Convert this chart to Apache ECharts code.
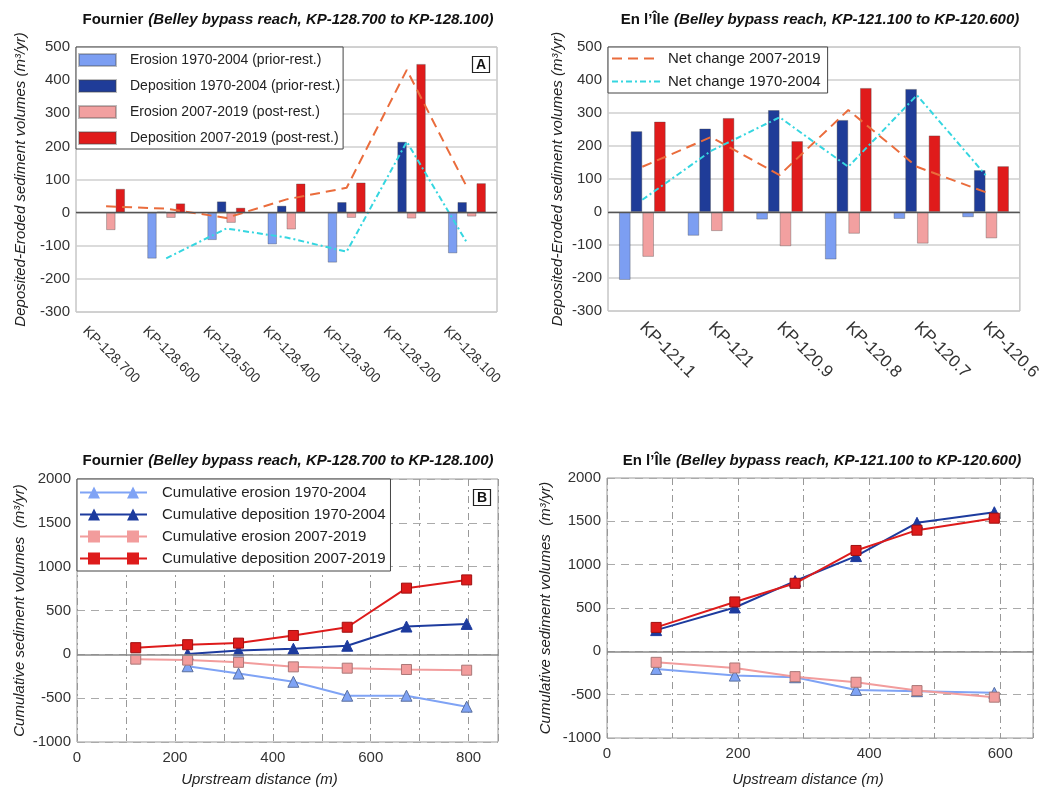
<!DOCTYPE html>
<html><head><meta charset="utf-8">
<script src="https://cdn.jsdelivr.net/npm/echarts/dist/echarts.min.js"></script>
<style>html,body{margin:0;padding:0;background:#fff}#c{width:1043px;height:789px}</style>
</head><body><div id="c"></div>
<script>
// ---------- Data: Fournier (bars, panel A) ----------
const kpFournier = ['KP-128.700','KP-128.600','KP-128.500','KP-128.400','KP-128.300','KP-128.200','KP-128.100'];
const fErosion7004    = [null, -139, -83, -96, -151, null, -123];
const fDeposition7004 = [null, 3, 34, 21, 32, 214, 32];
const fErosion0719    = [-53, -16, -31, -51, -16, -18, -12];
const fDeposition0719 = [72, 28, 15, 88, 91, 449, 89];
const fNet0719        = [19, 12, -16, 40, 75, 431, 77];
const fNet7004        = [null, -138, -48, -75, -118, 214, -91];

// ---------- Data: En l'Île (bars) ----------
const kpIle = ['KP-121.1','KP-121','KP-120.9','KP-120.8','KP-120.7','KP-120.6'];
const iErosion7004    = [-206, -72, -23, -144, -21, -16];
const iDeposition7004 = [245, 253, 309, 279, 373, 127];
const iErosion0719    = [-136, -58, -104, -66, -96, -80];
const iDeposition0719 = [274, 285, 215, 376, 232, 139];
const iNet0719        = [137, 227, 112, 309, 137, 60];
const iNet7004        = [37, 185, 287, 137, 354, 112];

// ---------- Data: cumulative (panel B) ----------
const fDist = [120, 226, 330, 442, 552, 673, 796];
const fCumErosion7004    = [null, -136, -219, -313, -472, -472, -597];
const fCumDeposition7004 = [null, 5, 45, 64, 98, 317, 347];
const fCumErosion0719    = [-55, -66, -91, -143, -158, -173, -181];
const fCumDeposition0719 = [76, 110, 128, 215, 309, 755, 849];

const iDist = [75, 195, 287, 380, 473, 591];
const iCumErosion7004    = [-203, -280, -299, -445, -460, -479];
const iCumDeposition7004 = [245, 506, 811, 1099, 1483, 1605];
const iCumErosion0719    = [-127, -192, -292, -357, -453, -529];
const iCumDeposition0719 = [276, 570, 785, 1164, 1398, 1536];

// ---------- Names ----------
const N = {
  e7004: 'Erosion 1970-2004 (prior-rest.)',
  d7004: 'Deposition 1970-2004 (prior-rest.)',
  e0719: 'Erosion 2007-2019 (post-rest.)',
  d0719: 'Deposition 2007-2019 (post-rest.)',
  n0719: 'Net change 2007-2019',
  n7004: 'Net change 1970-2004',
  ce7004: 'Cumulative erosion 1970-2004',
  cd7004: 'Cumulative deposition 1970-2004',
  ce0719: 'Cumulative erosion 2007-2019',
  cd0719: 'Cumulative deposition 2007-2019'
};

const FONT = "'Liberation Sans', Arial, sans-serif";
const C = { lb:'#7C9EF2', db:'#1F3C98', pk:'#F2A0A0', rd:'#E01B1B', or:'#EA6C3C', cy:'#35D6E0' };

function pairs(xs, ys){ return xs.map((x,i)=> ys[i]==null ? null : [x, ys[i]]).filter(p=>p); }

const zeroLine = { silent:true, symbol:'none', label:{show:false},
  lineStyle:{color:'#555', type:'solid', width:1.3}, data:[{yAxis:0}] };

function bar(name, data, color, gi, bw, withZero){
  const s = { name, type:'bar', xAxisIndex:gi, yAxisIndex:gi, data, barWidth:bw, barGap:'0%',
    itemStyle:{color, borderColor:'rgba(70,70,70,0.35)', borderWidth:1} };
  if (withZero) s.markLine = zeroLine;
  return s;
}
function net(name, data, color, dash, gi){
  return { name, type:'line', xAxisIndex:gi, yAxisIndex:gi, data, symbol:'none', z:3,
    lineStyle:{color, width:2, type:dash}, itemStyle:{color} };
}
function cum(name, xs, ys, color, sym, border, gi, withZero){
  const s = { name, type:'line', xAxisIndex:gi, yAxisIndex:gi, data:pairs(xs, ys),
    symbol:sym, symbolSize: sym==='triangle'?11:10, z:3,
    lineStyle:{color, width:2}, itemStyle:{color, borderColor:border, borderWidth:1} };
  if (withZero) s.markLine = Object.assign({}, zeroLine, {lineStyle:{color:'#888', type:'solid', width:1.5}});
  return s;
}

const triIcon = 'path://M0,5L67,5L67,7L0,7Z M8,12L14,0L20,12Z M47,12L53,0L59,12Z';
const sqIcon  = 'path://M0,5L67,5L67,7L0,7Z M8,0L20,0L20,12L8,12Z M47,0L59,0L59,12L47,12Z';

const tick = { fontSize:15, color:'#333', fontFamily:FONT };
const nameStyle = { fontSize:15, fontStyle:'italic', color:'#222', fontFamily:FONT };
const plain = v => String(v);

function barY(gi, gap){
  return { type:'value', gridIndex:gi, min:-300, max:500, interval:100,
    axisLine:{show:false}, axisTick:{show:false},
    axisLabel:Object.assign({margin:6, formatter:plain}, tick),
    splitLine:{lineStyle:{color:'#cfcfcf', width:1.5}},
    name:'Deposited-Eroded sediment volumes (m³/yr)', nameLocation:'middle', nameGap:gap,
    nameTextStyle:nameStyle };
}
function cumY(gi, gap){
  return { type:'value', gridIndex:gi, min:-1000, max:2000, interval:500,
    axisLine:{show:false}, axisTick:{show:false},
    axisLabel:Object.assign({margin:6, formatter:plain}, tick),
    splitLine:{lineStyle:{color:'#aaa', width:1, type:[8,6]}},
    name:'Cumulative sediment volumes  (m³/yr)', nameLocation:'middle', nameGap:gap,
    nameTextStyle:nameStyle };
}
function cumX(gi, max, name, gap, shift){
  return { type:'value', gridIndex:gi, min:0, max, interval:100,
    axisLine:{show:false, onZero:false}, axisTick:{show:false},
    axisLabel:Object.assign({margin:8, formatter:v=> (v%200===0 ? String(v) : '')}, tick),
    splitLine:{lineStyle:{color:'#999', width:1, type:[7,4,2,4]}},
    name, nameLocation:'middle', nameGap:gap,
    nameTextStyle:Object.assign({padding:[0, shift, 0, 0]}, nameStyle) };
}

function titleRich(bold, rest, x, y){
  return { text:'{b|'+bold+'} {i|'+rest+'}', left:x, top:y, textAlign:'center', padding:0,
    textStyle:{ rich:{
      b:{fontSize:15, fontWeight:'bold', color:'#111', fontFamily:FONT},
      i:{fontSize:15, fontStyle:'italic', color:'#111', fontFamily:FONT} } } };
}
function boxLabel(t, x, y){
  return { text:t, left:x, top:y, padding:[2,4,1,4], borderColor:'#222', borderWidth:1.2,
    textStyle:{fontSize:14, fontWeight:'bold', color:'#111', fontFamily:FONT} };
}

const option = {
  animation:false,
  backgroundColor:'#fff',
  title:[
    titleRich('Fournier', '(Belley bypass reach, KP-128.700 to KP-128.100)', 288, 11),
    titleRich('En l’Île', '(Belley bypass reach, KP-121.100 to KP-120.600)', 820, 11),
    titleRich('Fournier', '(Belley bypass reach, KP-128.700 to KP-128.100)', 288, 452),
    titleRich('En l’Île', '(Belley bypass reach, KP-121.100 to KP-120.600)', 822, 452),
    boxLabel('A', 472, 56),
    boxLabel('B', 473, 489)
  ],
  grid:[
    {left:76, top:47, width:421, height:265, show:true, borderColor:'#aaa', borderWidth:1},
    {left:608, top:47, width:422, height:264, show:true, borderColor:'#aaa', borderWidth:1},
    {left:77, top:479, width:421, height:263, show:true, borderColor:'#999', borderWidth:1},
    {left:607, top:478, width:426, height:260, show:true, borderColor:'#999', borderWidth:1}
  ],
  xAxis:[
    { type:'category', gridIndex:0, data:kpFournier, axisLine:{show:false, onZero:false}, axisTick:{show:false},
      axisLabel:Object.assign({rotate:-45, align:'center', verticalAlign:'middle', margin:38, interval:0, padding:[0,0,0,14]}, tick, {fontSize:14}) },
    { type:'category', gridIndex:1, data:kpIle, axisLine:{show:false, onZero:false}, axisTick:{show:false},
      axisLabel:Object.assign({rotate:-45, margin:14, interval:0}, tick, {fontSize:17}) },
    cumX(2, 860, 'Uprstream distance (m)', 30, 56),
    cumX(3, 650, 'Upstream distance (m)', 34, 24)
  ],
  yAxis:[ barY(0, 48), barY(1, 43), cumY(2, 50), cumY(3, 54) ],
  legend:[
    { orient:'vertical', left:76, top:47, itemWidth:37, itemHeight:12, itemGap:12, icon:'rect',
      selectedMode:false, backgroundColor:'#fff', borderColor:'#444', borderWidth:1, padding:[6,3,4,2],
      textStyle:{fontSize:14, color:'#222', fontFamily:FONT, padding:[0,0,0,9]},
      data:[N.e7004, N.d7004, N.e0719, N.d0719] },
    { orient:'vertical', left:608, top:47, itemWidth:48, itemHeight:12, itemGap:8,
      selectedMode:false, backgroundColor:'#fff', borderColor:'#444', borderWidth:1, padding:[4,7,4,3],
      itemStyle:{color:'rgba(0,0,0,0)', borderWidth:0, opacity:0},
      textStyle:{fontSize:15, color:'#222', fontFamily:FONT, padding:[0,0,0,3]},
      data:[N.n0719, N.n7004] },
    { orient:'vertical', left:77, top:479, itemWidth:67, itemHeight:12, itemGap:7,
      selectedMode:false, backgroundColor:'#fff', borderColor:'#444', borderWidth:1, padding:[6,5,5,3],
      itemStyle:{borderWidth:0},
      textStyle:{fontSize:15, color:'#222', fontFamily:FONT, padding:[0,0,0,10]},
      data:[{name:N.ce7004, icon:triIcon},{name:N.cd7004, icon:triIcon},{name:N.ce0719, icon:sqIcon},{name:N.cd0719, icon:sqIcon}] }
  ],
  series:[
    bar(N.e7004, fErosion7004, C.lb, 0, 9.5, true),
    bar(N.d7004, fDeposition7004, C.db, 0, 9.5),
    bar(N.e0719, fErosion0719, C.pk, 0, 9.5),
    bar(N.d0719, fDeposition0719, C.rd, 0, 9.5),
    net(N.n0719, fNet0719, C.or, [10,6], 0),
    net(N.n7004, fNet7004, C.cy, [6,3,2,3], 0),

    bar(N.e7004, iErosion7004, C.lb, 1, 11.7, true),
    bar(N.d7004, iDeposition7004, C.db, 1, 11.7),
    bar(N.e0719, iErosion0719, C.pk, 1, 11.7),
    bar(N.d0719, iDeposition0719, C.rd, 1, 11.7),
    net(N.n0719, iNet0719, C.or, [10,6], 1),
    net(N.n7004, iNet7004, C.cy, [6,3,2,3], 1),

    cum(N.ce7004, fDist, fCumErosion7004, '#7FA3F5', 'triangle', '#5a6f9e', 2, true),
    cum(N.cd7004, fDist, fCumDeposition7004, '#1D3B9E', 'triangle', '#1D3B9E', 2),
    cum(N.ce0719, fDist, fCumErosion0719, '#F29C9C', 'rect', '#a77', 2),
    cum(N.cd0719, fDist, fCumDeposition0719, '#DE1B1B', 'rect', '#a01010', 2),

    cum(N.ce7004, iDist, iCumErosion7004, '#7FA3F5', 'triangle', '#5a6f9e', 3, true),
    cum(N.cd7004, iDist, iCumDeposition7004, '#1D3B9E', 'triangle', '#1D3B9E', 3),
    cum(N.ce0719, iDist, iCumErosion0719, '#F29C9C', 'rect', '#a77', 3),
    cum(N.cd0719, iDist, iCumDeposition0719, '#DE1B1B', 'rect', '#a01010', 3)
  ]
};

const chart = echarts.init(document.getElementById('c'), null, {renderer:'canvas'});
chart.setOption(option);
</script>
</body></html>
